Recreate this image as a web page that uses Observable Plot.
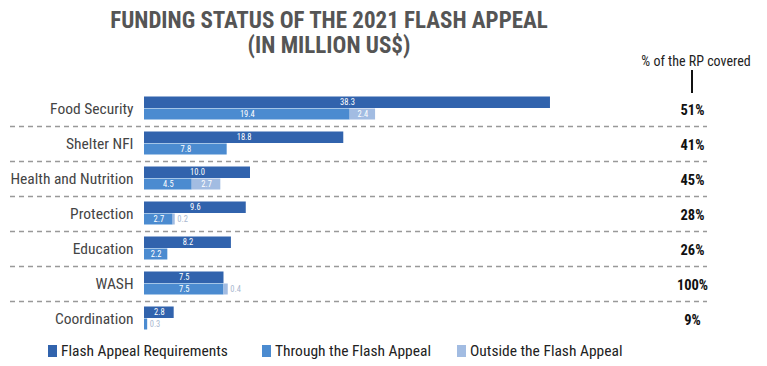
<!DOCTYPE html>
<html>
<head>
<meta charset="utf-8">
<script src="https://cdn.jsdelivr.net/npm/d3@7"></script>
<script src="https://cdn.jsdelivr.net/npm/@observablehq/plot@0.6"></script>
<style>
  body { margin: 0; background: #fff; font-family: "Roboto Condensed", "Liberation Sans Narrow", "DejaVu Sans Condensed", Roboto, sans-serif; font-stretch: condensed; }
  #wrap { position: relative; width: 767px; height: 366px; overflow: hidden; }
  #title { position: absolute; left: 0; top: 8px; width: 658px; text-align: center; font-weight: bold; font-size: 23px; line-height: 25px; color: #555; z-index: 2; }
  #hdr { position: absolute; left: 626px; top: 53px; width: 140px; text-align: center; font-size: 14px; color: #222; z-index: 2; }
  #hdrline { position: absolute; left: 691px; top: 70px; width: 2px; height: 23px; background: #111; z-index: 2; }
  #chart { position: absolute; left: 0; top: 58px; z-index: 1; }
  #legend { position: absolute; left: 0; top: 342px; width: 767px; height: 20px; font-size: 15.5px; color: #222; z-index: 2; }
  .item { position: absolute; top: 0; display: flex; align-items: center; }
  .sw { width: 9px; height: 12px; margin-right: 4px; }
</style>
</head>
<body>
<div id="wrap">
  <div id="title">FUNDING STATUS OF THE 2021 FLASH APPEAL<br>(IN MILLION US$)</div>
  <div id="chart"></div>
  <div id="hdr">% of the RP covered</div>
  <div id="hdrline"></div>
  <div id="legend"></div>
</div>
<script>
const categories = ["Food Security", "Shelter NFI", "Health and Nutrition", "Protection", "Education", "WASH", "Coordination"];
const requirements = [38.3, 18.8, 10.0, 9.6, 8.2, 7.5, 2.8];
const through = [19.4, 7.8, 4.5, 2.7, 2.2, 7.5, 0.3];
const outside = [2.4, 0, 2.7, 0.2, 0, 0.4, 0];
const coverage = ["51%", "41%", "45%", "28%", "26%", "100%", "9%"];
const seriesNames = ["Flash Appeal Requirements", "Through the Flash Appeal", "Outside the Flash Appeal"];
const colors = ["#3163ad", "#4b8bd0", "#a2bce2"];
const legendLeft = [48, 262, 457];

const reqData = categories.map((c, i) => ({cat: c, x1: 0, x2: requirements[i], v: requirements[i]}));
const fundData = [];
categories.forEach((c, i) => {
  fundData.push({cat: c, x1: 0, x2: through[i], v: through[i], s: 1});
  if (outside[i] > 0) fundData.push({cat: c, x1: through[i], x2: through[i] + outside[i], v: outside[i], s: 2});
});
const fmt = v => v.toFixed(1);
const inside = fundData.filter(d => d.v >= 1);
const small = fundData.filter(d => d.v < 1);
const pctData = categories.map((c, i) => ({cat: c, p: coverage[i]}));

const chart = Plot.plot({
  width: 767,
  height: 280,
  marginLeft: 144,
  marginRight: 75,
  marginTop: 32.5,
  marginBottom: 2.5,
  style: {fontFamily: '"Roboto Condensed", "Liberation Sans Narrow", "DejaVu Sans Condensed", Roboto, sans-serif', background: "transparent"},
  x: {domain: [0, 51.7], axis: null},
  y: {domain: categories, padding: 0, axis: null},
  color: {domain: [0, 1, 2], range: colors},
  marks: [
    Plot.ruleY(categories.slice(0, -1), {y: d => d, dy: 17.5, stroke: "#999", strokeWidth: 1.3, strokeDasharray: "5,4", insetLeft: -134, insetRight: -15}),
    Plot.barX(reqData, {y: "cat", x1: "x1", x2: "x2", fill: colors[0], insetTop: 5.5, insetBottom: 18}),
    Plot.barX(fundData, {y: "cat", x1: "x1", x2: "x2", fill: d => d.s, insetTop: 17.5, insetBottom: 6.5}),
    Plot.text(reqData, {y: "cat", x: d => d.x2 / 2, text: d => fmt(d.v), fill: "#fff", fontSize: 8.5, dy: -6.5}),
    Plot.text(inside, {y: "cat", x: d => (d.x1 + d.x2) / 2, text: d => fmt(d.v), fill: "#fff", fontSize: 8.5, dy: 5.5}),
    Plot.text(small, {y: "cat", x: "x2", text: d => fmt(d.v), fill: "#a9b8cf", fontSize: 8.5, dy: 5.5, dx: 2, textAnchor: "start"}),
    Plot.axisY({tickSize: 0, tickPadding: 11, fontSize: 15.5, fill: "#444", label: null}),
    Plot.text(pctData, {y: "cat", frameAnchor: "right", textAnchor: "middle", text: "p", fontSize: 14.5, fontWeight: "bold", fill: "#111", dy: 1})
  ]
});
document.getElementById("chart").appendChild(chart);

const legend = document.getElementById("legend");
seriesNames.forEach((n, i) => {
  const it = document.createElement("div");
  it.className = "item";
  it.style.left = legendLeft[i] + "px";
  it.innerHTML = `<div class="sw" style="background:${colors[i]}"></div><span>${n}</span>`;
  legend.appendChild(it);
});
</script>
</body>
</html>
